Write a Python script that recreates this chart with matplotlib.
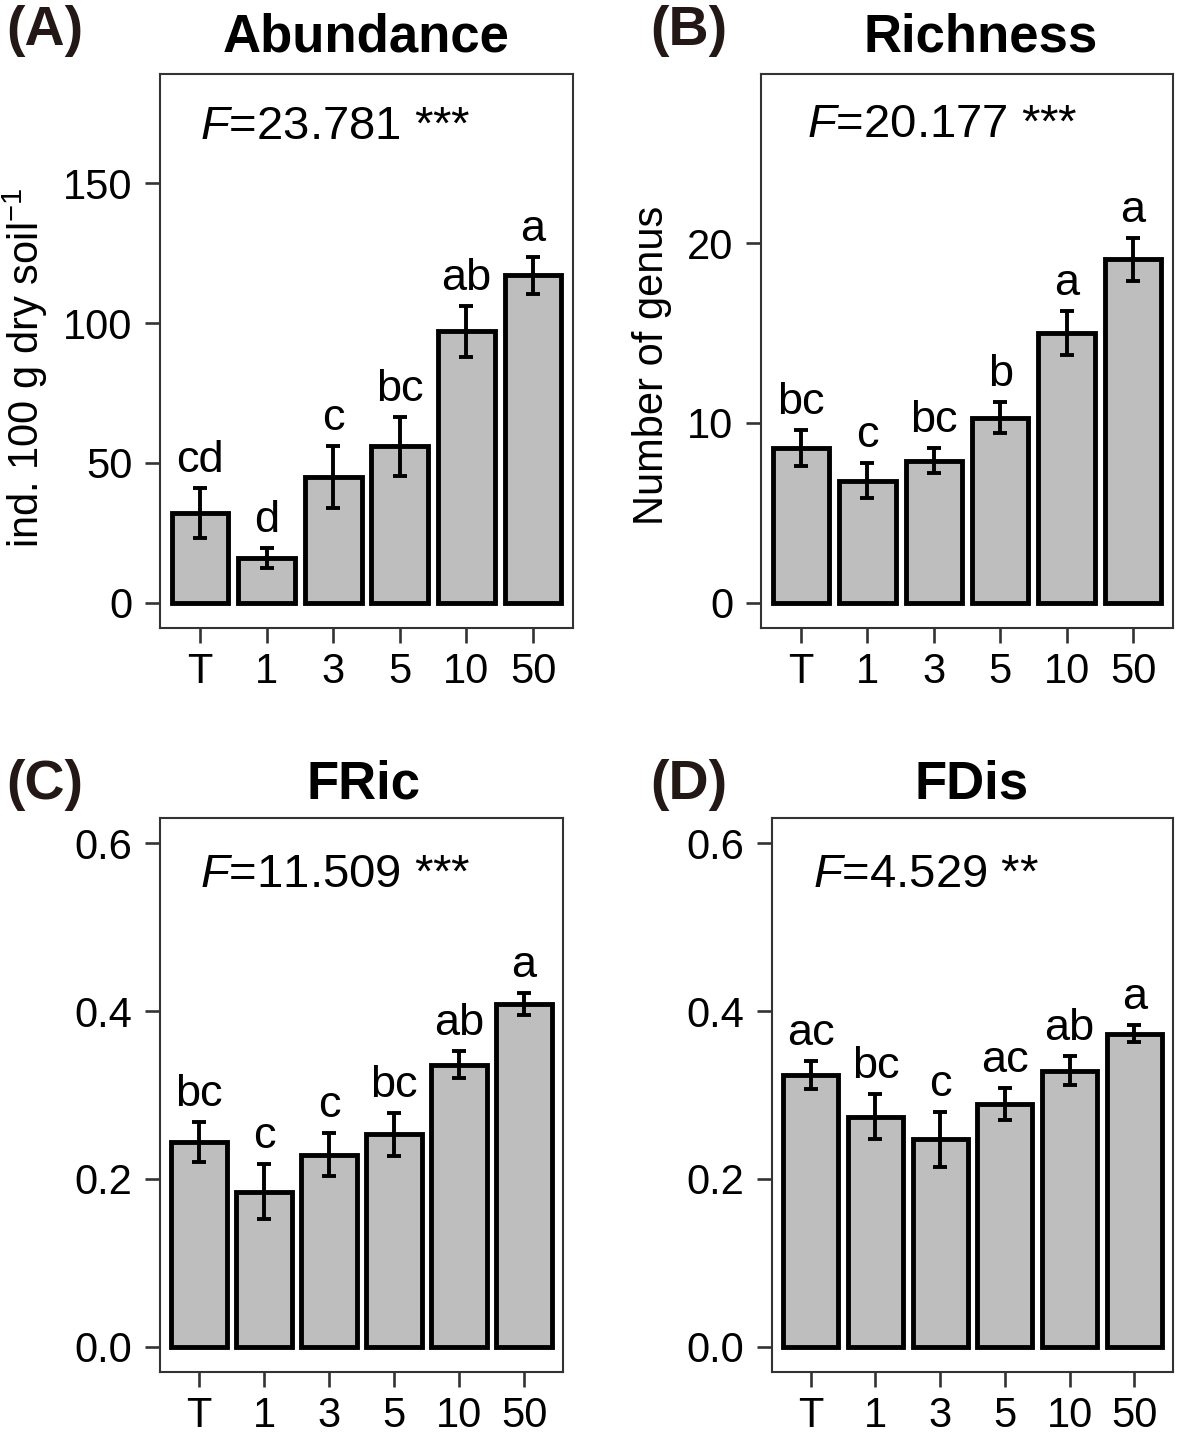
import matplotlib
matplotlib.use("Agg")
import matplotlib.pyplot as plt

plt.rcParams["font.family"] = ["Liberation Sans", "DejaVu Sans"]
plt.rcParams["mathtext.fontset"] = "custom"
plt.rcParams["mathtext.rm"] = "Liberation Sans"
plt.rcParams["mathtext.it"] = "Liberation Sans:italic"

groups = ["T", "1", "3", "5", "10", "50"]

abund_mean = [32, 16, 45, 56, 97, 117]
abund_se = [9, 3.5, 11, 10.5, 9, 6.5]
abund_letters = ["cd", "d", "c", "bc", "ab", "a"]

rich_mean = [8.6, 6.8, 7.9, 10.3, 15.0, 19.1]
rich_se = [1.0, 1.0, 0.7, 0.85, 1.25, 1.2]
rich_letters = ["bc", "c", "bc", "b", "a", "a"]

fric_mean = [0.244, 0.185, 0.229, 0.253, 0.336, 0.408]
fric_se = [0.024, 0.033, 0.026, 0.026, 0.016, 0.013]
fric_letters = ["bc", "c", "c", "bc", "ab", "a"]

fdis_mean = [0.324, 0.274, 0.247, 0.289, 0.329, 0.373]
fdis_se = [0.017, 0.027, 0.033, 0.019, 0.017, 0.010]
fdis_letters = ["ac", "bc", "c", "ac", "ab", "a"]

W, H = 1181, 1435
fig = plt.figure(figsize=(W / 100, H / 100), dpi=100)


def rect(l, r, t, b):
    return [l / W, 1 - b / H, (r - l) / W, (b - t) / H]


panels = [
    dict(mean=abund_mean, se=abund_se, letters=abund_letters, box=(160, 573, 74, 628),
         ylim=(-9, 189), ticks=[0, 50, 100, 150], ticklabels=["0", "50", "100", "150"],
         title="Abundance", title_xy=(366, 52), tag="(A)", tag_xy=(6, 45),
         ftext=r"$F$=23.781 ***", f_xy=(200, 139),
         ylabel=r"ind. 100 g dry soil$^{-1}$", ylabel_xy=(25, 368)),
    dict(mean=rich_mean, se=rich_se, letters=rich_letters, box=(761, 1173, 74, 628),
         ylim=(-1.4, 29.4), ticks=[0, 10, 20], ticklabels=["0", "10", "20"],
         title="Richness", title_xy=(981, 52), tag="(B)", tag_xy=(650, 45),
         ftext=r"$F$=20.177 ***", f_xy=(807, 137),
         ylabel="Number of genus", ylabel_xy=(652, 365)),
    dict(mean=fric_mean, se=fric_se, letters=fric_letters, box=(160, 563, 818, 1372),
         ylim=(-0.03, 0.63), ticks=[0, 0.2, 0.4, 0.6], ticklabels=["0.0", "0.2", "0.4", "0.6"],
         title="FRic", title_xy=(363, 798), tag="(C)", tag_xy=(6, 799),
         ftext=r"$F$=11.509 ***", f_xy=(200, 887),
         ylabel=None, ylabel_xy=None),
    dict(mean=fdis_mean, se=fdis_se, letters=fdis_letters, box=(772, 1173, 818, 1372),
         ylim=(-0.03, 0.63), ticks=[0, 0.2, 0.4, 0.6], ticklabels=["0.0", "0.2", "0.4", "0.6"],
         title="FDis", title_xy=(972, 798), tag="(D)", tag_xy=(650, 799),
         ftext=r"$F$=4.529 **", f_xy=(813, 887),
         ylabel=None, ylabel_xy=None),
]

x = list(range(len(groups)))

for p in panels:
    ax = fig.add_axes(rect(*p["box"]))
    ax.bar(x, p["mean"], width=0.85, color="#bebebe", edgecolor="black",
           linewidth=3.5, zorder=2)
    ax.errorbar(x, p["mean"], yerr=p["se"], fmt="none", ecolor="black",
                elinewidth=2.8, capsize=5, capthick=2.8, zorder=3)
    for xi, m, s, lab in zip(x, p["mean"], p["se"], p["letters"]):
        ax.annotate(lab, (xi, m + s), xytext=(0, 11.5), textcoords="offset points",
                    ha="center", va="baseline", fontsize=32.5, color="black")
    ax.set_xlim(-0.6, 5.6)
    ax.set_ylim(*p["ylim"])
    ax.set_xticks(x)
    ax.set_xticklabels(groups)
    ax.set_yticks(p["ticks"])
    ax.set_yticklabels(p["ticklabels"])
    ax.tick_params(axis="both", length=10.5, width=1.9, color="#333333",
                   labelsize=30, labelcolor="black")
    ax.tick_params(axis="x", pad=7)
    ax.tick_params(axis="y", pad=9.5)
    for sp in ax.spines.values():
        sp.set_color("#333333")
        sp.set_linewidth(1.5)

    fig.text(p["title_xy"][0] / W, 1 - p["title_xy"][1] / H, p["title"],
             ha="center", va="baseline", fontsize=38, fontweight="bold")
    fig.text(p["tag_xy"][0] / W, 1 - p["tag_xy"][1] / H, p["tag"],
             ha="left", va="baseline", fontsize=40, fontweight="bold", color="#231815")
    fig.text(p["f_xy"][0] / W, 1 - p["f_xy"][1] / H, p["ftext"],
             ha="left", va="baseline", fontsize=34)
    if p["ylabel"]:
        fig.text(p["ylabel_xy"][0] / W, 1 - p["ylabel_xy"][1] / H, p["ylabel"],
                 ha="center", va="center", rotation=90, fontsize=30)

fig.savefig("out.png", dpi=100)
